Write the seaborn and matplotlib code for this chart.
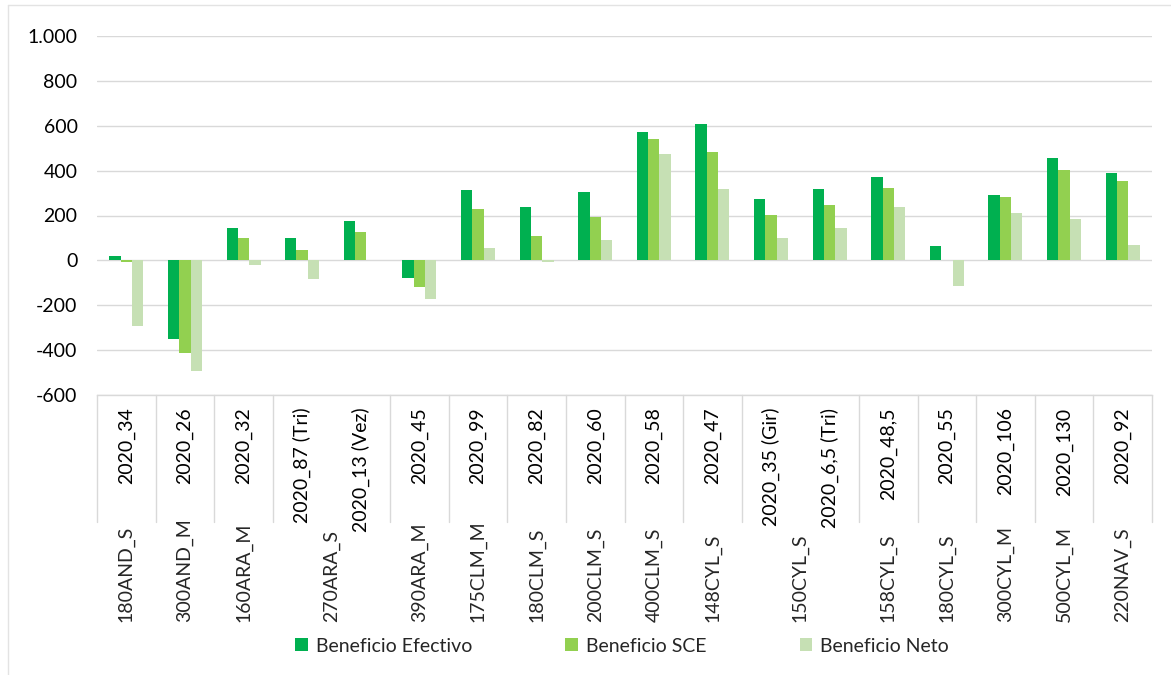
import pandas as pd
import seaborn as sns
import matplotlib.pyplot as plt
from matplotlib.lines import Line2D
from matplotlib.patches import Patch
from matplotlib.ticker import FuncFormatter
import matplotlib.transforms as mtransforms

# data
grupos = ["180AND_S", "300AND_M", "160ARA_M", "270ARA_S", "270ARA_S",
          "390ARA_M", "175CLM_M", "180CLM_S", "200CLM_S", "400CLM_S",
          "148CYL_S", "150CYL_S", "150CYL_S", "158CYL_S", "180CYL_S",
          "300CYL_M", "500CYL_M", "220NAV_S"]
ofertas = ["2020_34", "2020_26", "2020_32", "2020_87 (Tri)", "2020_13 (Vez)",
           "2020_45", "2020_99", "2020_82", "2020_60", "2020_58",
           "2020_47", "2020_35 (Gir)", "2020_6,5 (Tri)", "2020_48,5", "2020_55",
           "2020_106", "2020_130", "2020_92"]
beneficio_efectivo = [21, -351, 143, 98, 177, -77, 314, 240, 304, 570,
                      610, 275, 317, 371, 65, 292, 457, 391]
beneficio_sce = [-6, -411, 98, 45, 125, -120, 228, 109, 192, 543,
                 482, 204, 246, 321, 0, 284, 402, 353]
beneficio_neto = [-293, -491, -19, -82, 0, -170, 54, -9, 89, 475,
                  317, 101, 143, 237, -112, 210, 183, 70]

series = ["Beneficio Efectivo", "Beneficio SCE", "Beneficio Neto"]
colores = ["#00B050", "#92D050", "#C6E0B4"]

df = pd.concat([
    pd.DataFrame({"oferta": ofertas, "valor": beneficio_efectivo, "serie": series[0]}),
    pd.DataFrame({"oferta": ofertas, "valor": beneficio_sce, "serie": series[1]}),
    pd.DataFrame({"oferta": ofertas, "valor": beneficio_neto, "serie": series[2]}),
])

sns.set_style("white")
plt.rcParams["font.family"] = ["Lato", "DejaVu Sans"]
fs = 14

fig = plt.figure(figsize=(11.71, 6.75), dpi=100)
ax = fig.add_axes([97 / 1171, 1 - 395 / 675, (1152 - 97) / 1171, (395 - 36) / 675])

sns.barplot(data=df, x="oferta", y="valor", hue="serie", order=ofertas,
            hue_order=series, palette=colores, width=0.58, saturation=1,
            edgecolor="none", ax=ax, legend=False)

ax.set_ylim(-600, 1000)
ax.set_xlim(-0.5, len(ofertas) - 0.5)
ax.set_yticks(range(-600, 1001, 200))
ax.yaxis.set_major_formatter(FuncFormatter(lambda v, p: f"{int(v):,}".replace(",", ".")))
ax.grid(axis="y", color="#D9D9D9", linewidth=1)
ax.set_axisbelow(True)
for s in ["top", "right", "left"]:
    ax.spines[s].set_visible(False)
ax.spines["bottom"].set_color("#D9D9D9")
ax.spines["bottom"].set_linewidth(1)
ax.set_xlabel("")
ax.set_ylabel("")
ax.tick_params(axis="both", length=0, labelsize=fs, colors="black")
ax.tick_params(axis="y", pad=14)
ax.tick_params(axis="x", pad=9)
ax.set_xticks(range(len(ofertas)))
ax.set_xticklabels(ofertas, rotation=90, va="top", ha="center")

# second tier of category labels + separators
trans = mtransforms.blended_transform_factory(ax.transData, ax.transAxes)
bordes = [-0.5]
inicio = 0
for i in range(1, len(grupos) + 1):
    if i == len(grupos) or grupos[i] != grupos[inicio]:
        centro = (inicio + i - 1) / 2
        ax.text(centro, -227 / 359, grupos[inicio], rotation=90, ha="center",
                va="bottom", transform=trans, fontsize=fs)
        bordes.append(i - 0.5)
        inicio = i
for b in bordes:
    ax.plot([b, b], [0, -127 / 359], color="#D9D9D9", linewidth=1,
            transform=trans, clip_on=False)

# legend
handles = [Patch(facecolor=c, edgecolor="none") for c in colores]
fig.legend(handles, series, loc="center", bbox_to_anchor=(622 / 1171, 1 - 646 / 675),
           ncol=3, frameon=False, fontsize=fs, handlelength=0.65, handleheight=0.65,
           handletextpad=0.4, columnspacing=4.8)

# outer chart frame
fig.add_artist(Line2D([8 / 1171, 1], [1 - 5 / 675] * 2, color="#E3E3E3", linewidth=1))
fig.add_artist(Line2D([8 / 1171] * 2, [0, 1 - 5 / 675], color="#E3E3E3", linewidth=1))

fig.savefig("out.png", dpi=100)
